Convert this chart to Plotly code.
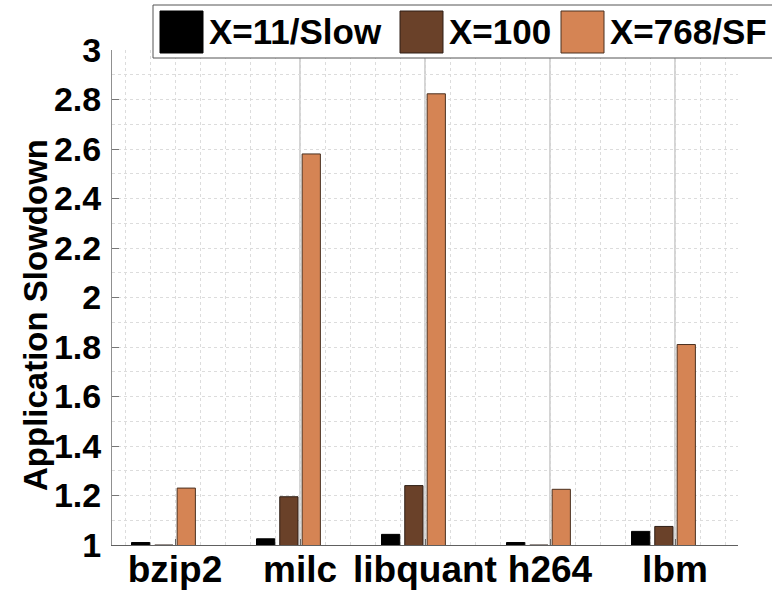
import plotly.graph_objects as go

categories = ["bzip2", "milc", "libquant", "h264", "lbm"]
series_names = ["X=11/Slow", "X=100", "X=768/SF"]
slow_vals = [1.010, 1.025, 1.043, 1.010, 1.055]
x100_vals = [1.000, 1.195, 1.240, 1.000, 1.075]
sf_vals = [1.230, 2.580, 2.823, 1.225, 1.810]
ytick_vals = [1.0, 1.2, 1.4, 1.6, 1.8, 2.0, 2.2, 2.4, 2.6, 2.8, 3.0]
ytick_text = ["1", "1.2", "1.4", "1.6", "1.8", "2", "2.2", "2.4", "2.6", "2.8", "3"]
y_title = "Application Slowdown"

colors = ["#000000", "#6a4129", "#d58454"]
edge_colors = ["#000000", "#2e1f16", "#4a3020"]
offsets = [-0.348, -0.162, 0.017]
bar_w = 0.146

W, H = 772, 593
ML, MR, MT, MB = 112, 34, 50, 48
PW, PH = W - ML - MR, H - MT - MB


def fx(px):
    return (px - ML) / PW


def fy(py):
    return (H - MB - py) / PH


FONT = "Liberation Sans, Arial, sans-serif"
xs = list(range(len(categories)))

fig = go.Figure()
for name, vals, c, ec, off in zip(series_names, [slow_vals, x100_vals, sf_vals], colors, edge_colors, offsets):
    fig.add_trace(go.Bar(
        x=xs, y=vals, name=name, width=bar_w, offset=off,
        marker=dict(color=c, line=dict(color=ec, width=1)),
        showlegend=False,
    ))

shapes = []
# solid vertical lines at category positions (except first)
for i in xs[1:]:
    shapes.append(dict(type="line", xref="x", yref="paper", x0=i, x1=i, y0=0, y1=1,
                       line=dict(color="#a8a8a8", width=1), layer="below"))

# custom legend
shapes.append(dict(type="rect", xref="paper", yref="paper",
                   x0=fx(153), x1=fx(790), y0=fy(58), y1=fy(5),
                   line=dict(color="#555555", width=1), fillcolor="white", layer="above"))
sq_left = [160, 400, 561]
txt_left = [207, 447, 608]
annotations = []
for name, c, ec, sl, tl in zip(series_names, colors, edge_colors, sq_left, txt_left):
    shapes.append(dict(type="rect", xref="paper", yref="paper",
                       x0=fx(sl), x1=fx(sl + 43), y0=fy(53), y1=fy(11),
                       line=dict(color=ec, width=1), fillcolor=c, layer="above"))
    annotations.append(dict(text=name, xref="paper", yref="paper", x=fx(tl), y=fy(32),
                            xanchor="left", yanchor="middle", showarrow=False,
                            font=dict(family=FONT, size=35, color="black", weight="bold")))

annotations.append(dict(text=y_title, xref="paper", yref="paper", x=fx(35), y=fy(315),
                        xanchor="center", yanchor="middle", textangle=-90, showarrow=False,
                        font=dict(family=FONT, size=33, color="black", weight="bold")))

grid_c = "#dcdcdc"
fig.update_layout(
    width=W, height=H,
    margin=dict(l=ML, r=MR, t=MT, b=MB, pad=0, autoexpand=False),
    paper_bgcolor="white", plot_bgcolor="white",
    barmode="overlay",
    shapes=shapes, annotations=annotations,
    xaxis=dict(
        range=[-0.504, 4.504], tickvals=xs, ticktext=categories,
        showgrid=True, gridcolor=grid_c, griddash="dot", gridwidth=1,
        minor=dict(dtick=0.2, tick0=0, showgrid=True, gridcolor=grid_c, griddash="dot", gridwidth=1),
        ticks="inside", ticklen=6, tickcolor="#666666",
        showline=True, linecolor="#606060", linewidth=1,
        zeroline=False, automargin=False,
        tickfont=dict(family=FONT, size=37, color="black", weight="bold"),
        ticklabelstandoff=-8,
    ),
    yaxis=dict(
        range=[1, 3], tickvals=ytick_vals, ticktext=ytick_text,
        showgrid=True, gridcolor=grid_c, griddash="dot", gridwidth=1,
        minor=dict(dtick=0.1, tick0=1, showgrid=True, gridcolor=grid_c, griddash="dot", gridwidth=1),
        ticks="inside", ticklen=7, tickcolor="#777777",
        showline=True, linecolor="#909090", linewidth=1,
        zeroline=False, automargin=False,
        tickfont=dict(family=FONT, size=34, color="black", weight="bold"),
        ticklabelstandoff=3,
    ),
)

fig.write_html("out.html")
